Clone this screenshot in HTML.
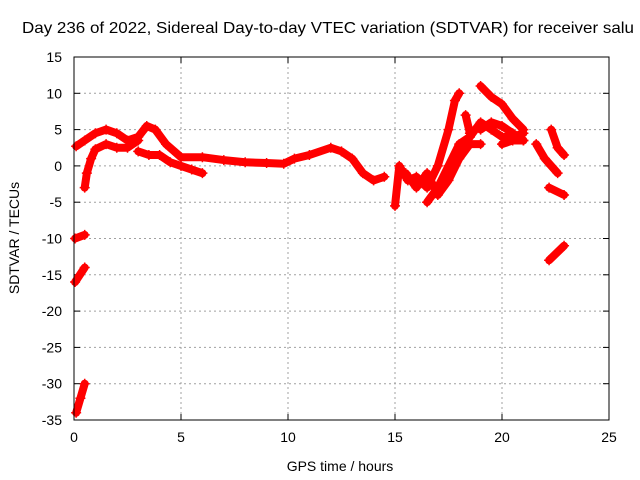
<!DOCTYPE html>
<html><head><meta charset="utf-8"><style>
body{margin:0;background:#fff;font-family:"Liberation Sans",sans-serif}
svg{display:block}
</style></head><body>
<svg id="chart" width="640" height="480">
<text x="22" y="33" font-size="16" textLength="612" lengthAdjust="spacingAndGlyphs">Day 236 of 2022, Sidereal Day-to-day VTEC variation (SDTVAR) for receiver salu</text>
<g id="grid"></g><g id="ticks"></g><g id="series"></g>
<rect x="74" y="57" width="535" height="363" fill="none" stroke="#000" stroke-width="1"/>
<text x="340" y="471" font-size="14" text-anchor="middle">GPS time / hours</text>
<text transform="translate(19,238) rotate(-90)" font-size="14" text-anchor="middle">SDTVAR / TECUs</text>
</svg>
<script>
const xTicks=[0,5,10,15,20,25];
const yTicks=[-35,-30,-25,-20,-15,-10,-5,0,5,10,15];
const traceA=[[0.1,2.7],[0.5,3.5],[1,4.5],[1.5,5],[2,4.5],[2.5,3.5],[3,4],[3.4,5.5],[3.8,5],[4.3,3],[5,1.2],[6,1.2],[7,0.8],[8,0.5],[9,0.4],[9.8,0.3],[10.3,1],[11,1.5],[12,2.5],[12.5,2],[13,1],[13.5,-1],[14,-2],[14.5,-1.5]];
const traceB=[[0.5,-3],[0.6,-1],[0.8,1],[1,2.3],[1.5,3],[2,2.5],[2.5,2.5],[3,3.5]];
const traceC=[[3,2],[3.5,1.5],[4,1.5],[4.5,0.5],[5,0],[5.5,-0.5],[6,-1]];
const traceD=[[0.05,-10],[0.5,-9.5]];
const traceE=[[0.05,-16],[0.5,-14]];
const traceF=[[0.1,-34],[0.3,-32],[0.5,-30]];
const traceG=[[15,-5.5],[15.2,0],[15.6,-2],[16,-1.5],[16.5,-3],[17,0],[17.5,5],[17.8,9],[18,10]];
const traceH=[[16.5,-5],[17,-3],[17.5,0],[18,3],[18.5,4]];
const traceI=[[18,2],[18.5,4],[19,6],[19.5,5],[20,4],[20.5,4],[21,4.5]];
const traceJ=[[19,11],[19.5,9.5],[20,8.5],[20.5,6.5],[21,5]];
const traceK=[[18.3,7],[18.5,4.5]];
const traceL=[[21.6,3],[22,1],[22.3,0],[22.6,-1]];
const traceM=[[22.3,5],[22.6,2.5],[22.9,1.5]];
const traceN=[[22.2,-3],[22.9,-4]];
const traceO=[[22.2,-13],[22.9,-11]];
const traceP=[[15.5,-1],[16,-3],[16.5,-1],[17,-4],[17.5,-2],[18,1],[18.5,3],[19,3]];
const traceQ=[[19,5],[19.5,6],[20,5.5],[20.5,4.5],[21,3.5]];
const traceR=[[20,3],[20.5,3.5],[21,3.5]];
const traces=[traceA,traceB,traceC,traceD,traceE,traceF,traceG,traceH,traceI,traceJ,traceK,traceL,traceM,traceN,traceO,traceP,traceQ,traceR];
const X0=74,X1=609,Y0=420,Y1=57;
function sx(v){return X0+(v-0)/25*(X1-X0);}
function sy(v){return Y0-(v+35)/50*(Y0-Y1);}
const NS='http://www.w3.org/2000/svg';
function mk(t,a,p){const e=document.createElementNS(NS,t);for(const k in a)e.setAttribute(k,a[k]);p.appendChild(e);return e;}
const grid=document.getElementById('grid'),ticks=document.getElementById('ticks'),ser=document.getElementById('series');
xTicks.forEach(t=>{const x=sx(t);
 if(t>0&&t<25){const g=mk('line',{x1:x,x2:x,y1:Y1,y2:Y0,stroke:'#a0a0a0','stroke-dasharray':'2,3'},grid);
 
 }
 mk('line',{x1:x,x2:x,y1:Y0,y2:Y0-6,stroke:'#000'},ticks);mk('line',{x1:x,x2:x,y1:Y1,y2:Y1+6,stroke:'#000'},ticks);
 const l=mk('text',{x:x,y:Y0+22,'font-size':14,'text-anchor':'middle'},ticks);l.textContent=t;
 
 });
yTicks.forEach(t=>{const y=sy(t);
 if(t>-35&&t<15){const g=mk('line',{x1:X0,x2:X1,y1:y,y2:y,stroke:'#a0a0a0','stroke-dasharray':'2,3'},grid);
 
 }
 mk('line',{x1:X0,x2:X0+6,y1:y,y2:y,stroke:'#000'},ticks);mk('line',{x1:X1,x2:X1-6,y1:y,y2:y,stroke:'#000'},ticks);
 const l=mk('text',{x:X0-12,y:y+5,'font-size':14,'text-anchor':'end'},ticks);l.textContent=t;
 
 });
traces.forEach((tr,i)=>{
 const pl=mk('polyline',{points:tr.map(p=>sx(p[0])+','+sy(p[1])).join(' '),fill:'none',stroke:'#f00','stroke-width':8,'stroke-linejoin':'round','stroke-linecap':'round'},ser);
 
 
 tr.forEach(p=>{const x=sx(p[0]),y=sy(p[1]);
  const m=mk('path',{d:`M${x-5},${y}h10M${x},${y-5}v10`,stroke:'#f00','stroke-width':1.5},ser);
  
  });
});
</script>
</body></html>
